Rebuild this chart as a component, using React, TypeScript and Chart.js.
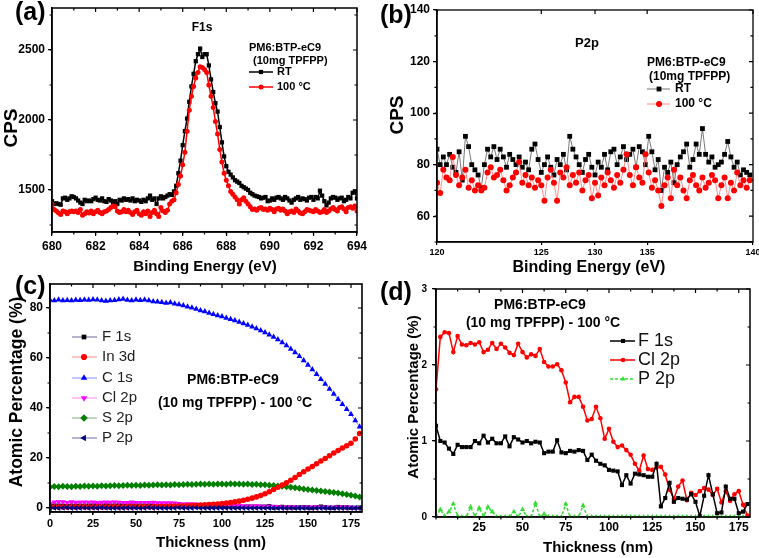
import React, { useEffect, useRef } from "react";
import { Chart, registerables } from "chart.js";

Chart.register(...registerables);
Chart.defaults.font.family = '"Liberation Sans", Arial, sans-serif';
Chart.defaults.color = "#000";

// ================= Panel (a): F1s XPS =================
const aEnergy = [
  680, 680.1, 680.2, 680.3, 680.4, 680.5, 680.6, 680.7, 680.8, 680.9,
  681, 681.1, 681.2, 681.3, 681.4, 681.5, 681.6, 681.7, 681.8, 681.9,
  682, 682.1, 682.2, 682.3, 682.4, 682.5, 682.6, 682.7, 682.8, 682.9,
  683, 683.1, 683.2, 683.3, 683.4, 683.5, 683.6, 683.7, 683.8, 683.9,
  684, 684.1, 684.2, 684.3, 684.4, 684.5, 684.6, 684.7, 684.8, 684.9,
  685, 685.1, 685.2, 685.3, 685.4, 685.5, 685.6, 685.7, 685.8, 685.9,
  686, 686.1, 686.2, 686.3, 686.4, 686.5, 686.6, 686.7, 686.8, 686.9,
  687, 687.1, 687.2, 687.3, 687.4, 687.5, 687.6, 687.7, 687.8, 687.9,
  688, 688.1, 688.2, 688.3, 688.4, 688.5, 688.6, 688.7, 688.8, 688.9,
  689, 689.1, 689.2, 689.3, 689.4, 689.5, 689.6, 689.7, 689.8, 689.9,
  690, 690.1, 690.2, 690.3, 690.4, 690.5, 690.6, 690.7, 690.8, 690.9,
  691, 691.1, 691.2, 691.3, 691.4, 691.5, 691.6, 691.7, 691.8, 691.9,
  692, 692.1, 692.2, 692.3, 692.4, 692.5, 692.6, 692.7, 692.8, 692.9,
  693, 693.1, 693.2, 693.3, 693.4, 693.5, 693.6, 693.7, 693.8, 693.9,
  694,
];
const aRT = [
  1420, 1400, 1405, 1400, 1395, 1440, 1445, 1430, 1440, 1455,
  1450, 1440, 1425, 1410, 1400, 1430, 1420, 1425, 1420, 1435,
  1445, 1430, 1425, 1440, 1420, 1415, 1435, 1425, 1410, 1420,
  1400, 1430, 1425, 1440, 1430, 1435, 1425, 1440, 1420, 1430,
  1425, 1415, 1430, 1420, 1440, 1460, 1430, 1440, 1400, 1440,
  1455, 1440, 1450, 1460, 1470, 1465, 1490, 1530, 1620, 1710,
  1820, 1920, 2010, 2130, 2240, 2330, 2420, 2470, 2510, 2450,
  2470, 2470, 2390, 2290, 2200, 2120, 2060, 1950, 1840, 1740,
  1670, 1630, 1610, 1590, 1570, 1560, 1550, 1530, 1520, 1510,
  1500, 1480, 1470, 1460, 1455, 1450, 1440, 1445, 1450, 1420,
  1425, 1440, 1430, 1445, 1450, 1440, 1430, 1450, 1440, 1425,
  1410, 1430, 1440, 1450, 1430, 1440, 1435, 1425, 1445, 1450,
  1430, 1450, 1440, 1495, 1460, 1420, 1390, 1410, 1440, 1450,
  1445, 1430, 1440, 1445, 1420, 1430, 1450, 1440, 1480, 1490,
  1440,
];
const a100C = [
  1400, 1360, 1350, 1335, 1325, 1350, 1345, 1330, 1345, 1350,
  1345, 1350, 1340, 1360, 1320, 1330, 1345, 1335, 1350, 1330,
  1345, 1355, 1340, 1330, 1345, 1350, 1360, 1375, 1385, 1380,
  1350, 1340, 1345, 1360, 1345, 1355, 1340, 1325, 1345, 1355,
  1330, 1320, 1345, 1330, 1350, 1310, 1340, 1355, 1330, 1310,
  1375, 1350, 1340, 1355, 1400, 1420, 1430, 1480, 1540, 1600,
  1680, 1770, 1920, 2070, 2170, 2240, 2300, 2340, 2380, 2375,
  2360, 2340, 2250, 2170, 2090, 1990, 1900, 1790, 1700, 1620,
  1570, 1530, 1490, 1470, 1450, 1430, 1400, 1430, 1445, 1420,
  1400, 1380, 1360, 1365, 1355, 1370, 1375, 1360, 1365, 1355,
  1370, 1360, 1345, 1365, 1370, 1355, 1365, 1350, 1330, 1345,
  1350, 1340, 1365, 1350, 1335, 1330, 1345, 1360, 1355, 1350,
  1345, 1360, 1350, 1340, 1345, 1360, 1340, 1350, 1365, 1375,
  1360, 1350, 1375, 1380, 1365, 1345, 1375, 1380, 1370, 1385,
  1350,
];
const aXTicks = [680, 682, 684, 686, 688, 690, 692, 694];
const aYTicks = [1500, 2000, 2500];
const aSeriesLabels = ["RT", "100 \u00B0C"];

// ================= Panel (b): P2p XPS =================
const bEnergy = [
  120, 120.2, 120.4, 120.6, 120.8, 121, 121.2, 121.4, 121.6, 121.8,
  122, 122.2, 122.4, 122.6, 122.8, 123, 123.2, 123.4, 123.6, 123.8,
  124, 124.2, 124.4, 124.6, 124.8, 125, 125.2, 125.4, 125.6, 125.8,
  126, 126.2, 126.4, 126.6, 126.8, 127, 127.2, 127.4, 127.6, 127.8,
  128, 128.2, 128.4, 128.6, 128.8, 129, 129.2, 129.4, 129.6, 129.8,
  130, 130.2, 130.4, 130.6, 130.8, 131, 131.2, 131.4, 131.6, 131.8,
  132, 132.2, 132.4, 132.6, 132.8, 133, 133.2, 133.4, 133.6, 133.8,
  134, 134.2, 134.4, 134.6, 134.8, 135, 135.2, 135.4, 135.6, 135.8,
  136, 136.2, 136.4, 136.6, 136.8, 137, 137.2, 137.4, 137.6, 137.8,
  138, 138.2, 138.4, 138.6, 138.8, 139, 139.2, 139.4, 139.6, 139.8,
];
const bRT = [
  86, 80, 83, 80, 84, 79, 77, 85, 74, 91,
  87, 80, 78, 76, 71, 80, 86, 83, 87, 82,
  86, 83, 79, 84, 82, 80, 83, 79, 81, 78,
  86, 88, 82, 77, 80, 83, 79, 76, 82, 80,
  84, 78, 91, 86, 83, 80, 77, 82, 84, 79,
  76, 81, 79, 84, 78, 85, 86, 80, 83, 87,
  82, 84, 86, 79, 87, 85, 80, 91, 85, 78,
  82, 70, 79, 77, 81, 73, 80, 83, 85, 88,
  79, 82, 88, 84, 94, 84, 81, 83, 79, 80,
  81, 84, 89, 83, 79, 81, 76, 78, 77, 76,
];
const b100C = [
  73, 69, 78, 75, 74, 83, 76, 72, 75, 78,
  71, 74, 70, 72, 70, 71, 77, 79, 75, 76,
  78, 74, 70, 72, 75, 77, 81, 73, 76, 72,
  75, 71, 74, 72, 66, 75, 78, 73, 66, 77,
  75, 79, 72, 76, 73, 77, 70, 74, 76, 67,
  73, 68, 75, 72, 77, 74, 71, 76, 73, 78,
  84, 76, 72, 79, 75, 73, 84, 77, 71, 74,
  70, 64, 72, 75, 67, 78, 72, 75, 70, 67,
  74, 76, 72, 70, 75, 71, 73, 76, 74, 67,
  72, 75, 67, 73, 70, 77, 72, 74, 71, 74,
];
const bXTickValues = [120, 126.6, 130, 133.3, 140];
const bXTickLabels = ["120", "125", "130", "135", "140"];
const bYTicks = [60, 80, 100, 120, 140];

// ================= Panels (c) & (d): depth profile =================
const thickness = [
  0, 2.5, 5, 7.5, 10, 12.5, 15, 17.5, 20, 22.5,
  25, 27.5, 30, 32.5, 35, 37.5, 40, 42.5, 45, 47.5,
  50, 52.5, 55, 57.5, 60, 62.5, 65, 67.5, 70, 72.5,
  75, 77.5, 80, 82.5, 85, 87.5, 90, 92.5, 95, 97.5,
  100, 102.5, 105, 107.5, 110, 112.5, 115, 117.5, 120, 122.5,
  125, 127.5, 130, 132.5, 135, 137.5, 140, 142.5, 145, 147.5,
  150, 152.5, 155, 157.5, 160, 162.5, 165, 167.5, 170, 172.5,
  175, 177.5, 180,
];
const f1s = [
  1.2, 1.0, 0.98, 0.9, 0.83, 0.95, 0.92, 0.92, 0.92, 1.0,
  0.97, 1.07, 0.98, 1.03, 0.97, 0.97, 1.06, 0.93, 1.05, 1.02,
  0.98, 1.0, 0.97, 0.99, 0.98, 0.84, 0.86, 0.86, 1.01, 0.85,
  0.84, 0.87, 0.86, 0.88, 0.87, 0.75, 0.82, 0.74, 0.7, 0.68,
  0.62, 0.61, 0.6, 0.42, 0.55, 0.44, 0.57, 0.56, 0.55, 0.53,
  0.53, 0.7, 0.14, 0.25, 0.45, 0.2, 0.25, 0.24, 0.23, 0.3,
  0.2, 0.01, 0.28, 0.55, 0.3, 0.05, 0.06, 0.4, 0.24, 0.24,
  0.05, 0.07, 0.17,
];
const in3d = [
  0.45, 0.4, 0.42, 0.38, 0.41, 0.39, 0.43, 0.4, 0.38, 0.42,
  0.4, 0.44, 0.41, 0.39, 0.42, 0.45, 0.43, 0.4, 0.44, 0.46,
  0.45, 0.48, 0.47, 0.5, 0.52, 0.55, 0.58, 0.6, 0.65, 0.7,
  0.75, 0.82, 0.9, 0.98, 1.06, 1.15, 1.25, 1.35, 1.48, 1.62,
  1.78, 1.98, 2.2, 2.45, 2.75, 3.1, 3.5, 3.95, 4.45, 5.0,
  5.7, 6.5, 7.4, 8.3, 9.2, 10.1, 11.1, 12.2, 13.4, 14.5,
  15.6, 16.6, 17.7, 18.8, 19.8, 20.9, 22.0, 23.0, 24.0, 24.9,
  25.9, 27.6, 29.8,
];
const c1s = [
  83.2, 83.0, 83.3, 83.0, 83.1, 83.0, 83.2, 83.1, 83.3, 83.2,
  83.4, 83.3, 83.0, 82.8, 83.0, 83.1, 83.4, 83.6, 83.2, 83.0,
  83.3, 83.1, 83.3, 83.0, 82.6, 82.5, 82.3, 82.0, 82.2, 81.7,
  81.4, 81.0, 80.5, 80.1, 79.6, 79.0, 78.6, 78.0, 77.5, 77.0,
  76.6, 76.0, 75.5, 75.0, 74.4, 73.8, 73.2, 72.5, 71.8, 71.0,
  70.2, 69.3, 68.4, 67.4, 66.2, 65.0, 63.6, 62.2, 60.7, 59.0,
  57.2, 55.4, 53.5, 51.5, 49.6, 47.6, 45.6, 43.5, 41.5, 39.5,
  37.5, 35.0, 32.5,
];
const cl2p = [
  1.68, 2.37, 2.43, 2.42, 2.17, 2.38, 2.27, 2.26, 2.29, 2.27,
  2.3, 2.17, 2.2, 2.29, 2.21, 2.28, 2.23, 2.16, 2.13, 2.28,
  2.17, 2.1, 2.14, 2.12, 2.21, 2.04, 1.98, 1.98, 2.01, 1.93,
  1.77, 1.51, 1.58, 1.58, 1.45, 1.27, 1.29, 1.45, 1.3, 1.03,
  1.16, 0.99, 0.92, 0.94, 0.88, 0.82, 0.7, 0.61, 0.81, 0.63,
  0.62, 0.65, 0.66, 0.56, 0.36, 0.24, 0.4, 0.48, 0.22, 0.32,
  0.29, 0.34, 0.38, 0.36, 0.29, 0.37, 0.19, 0.34, 0.21, 0.3,
  0.34, 0.16, 0.02,
];
const s2p = [
  8.4, 8.6, 8.5, 8.7, 8.6, 8.5, 8.7, 8.6, 8.8, 8.7,
  8.8, 8.7, 8.9, 8.8, 8.9, 9.0, 8.9, 9.0, 9.1, 9.0,
  9.1, 9.0, 9.2, 9.1, 9.2, 9.3, 9.2, 9.3, 9.2, 9.4,
  9.3, 9.4, 9.5, 9.4, 9.5, 9.6, 9.5, 9.6, 9.5, 9.6,
  9.6, 9.5, 9.7, 9.6, 9.6, 9.5, 9.6, 9.4, 9.5, 9.3,
  9.3, 9.1, 9.0, 8.8, 8.7, 8.5, 8.3, 8.1, 7.9, 7.6,
  7.4, 7.2, 7.0, 6.8, 6.6, 6.4, 6.2, 6.0, 5.7, 5.4,
  5.1, 4.8, 4.4,
];
const p2p = [
  0, 0.1, 0.01, 0.07, 0.17, 0.01, 0, 0, 0.13, 0.01,
  0.12, 0.01, 0.13, 0.07, 0, 0, 0, 0, 0.07, 0,
  0.1, 0, 0, 0.18, 0, 0.04, 0, 0, 0, 0,
  0.17, 0, 0, 0, 0.15, 0, 0, 0, 0, 0,
  0, 0, 0, 0, 0, 0, 0, 0, 0, 0,
  0, 0, 0, 0, 0, 0, 0, 0, 0, 0,
  0, 0, 0, 0, 0, 0, 0, 0, 0, 0,
  0, 0, 0,
];
const cXTicks = [0, 25, 50, 75, 100, 125, 150, 175];
const cYTicks = [0, 20, 40, 60, 80];
const dXTicks = [25, 50, 75, 100, 125, 150, 175];
const dYTicks = [0, 1, 2, 3];

// ================= helpers =================
const FONT = '"Liberation Sans", Arial, sans-serif';

function pts(xs: number[], ys: number[]) {
  return xs.map((x, i) => ({ x, y: ys[i] }));
}

function drawMarker(ctx: any, style: string, rot: number, x: number, y: number, r: number, fill: string, stroke: string, bw: number) {
  ctx.beginPath();
  if (style === "circle") {
    ctx.arc(x, y, r, 0, Math.PI * 2);
  } else if (style === "rect") {
    const s = r * Math.SQRT1_2;
    ctx.rect(x - s, y - s, 2 * s, 2 * s);
  } else if (style === "rectRot") {
    ctx.moveTo(x, y - r);
    ctx.lineTo(x + r, y);
    ctx.lineTo(x, y + r);
    ctx.lineTo(x - r, y);
    ctx.closePath();
  } else {
    let a = ((rot || 0) * Math.PI) / 180;
    ctx.moveTo(x + Math.sin(a) * r, y - Math.cos(a) * r);
    a += (2 * Math.PI) / 3;
    ctx.lineTo(x + Math.sin(a) * r, y - Math.cos(a) * r);
    a += (2 * Math.PI) / 3;
    ctx.lineTo(x + Math.sin(a) * r, y - Math.cos(a) * r);
    ctx.closePath();
  }
  ctx.fillStyle = fill;
  ctx.fill();
  if (bw) {
    ctx.strokeStyle = stroke;
    ctx.lineWidth = bw;
    ctx.stroke();
  }
}

function makeDecor(spec: any) {
  return {
    id: "decor",
    afterDatasetsDraw(chart: any) {
      const { ctx, chartArea: ca, scales } = chart;
      const xs = scales.x;
      const ys = scales.y;
      ctx.save();
      ctx.strokeStyle = "#000";
      ctx.lineWidth = spec.frameW;
      ctx.strokeRect(ca.left, ca.top, ca.right - ca.left, ca.bottom - ca.top);
      ctx.lineWidth = 1.2;
      ctx.beginPath();
      const maj = spec.mirrorLen;
      for (const t of xs.ticks) {
        const p = xs.getPixelForValue(t.value);
        ctx.moveTo(p, ca.top);
        ctx.lineTo(p, ca.top + maj);
      }
      for (const t of ys.ticks) {
        const p = ys.getPixelForValue(t.value);
        ctx.moveTo(ca.right, p);
        ctx.lineTo(ca.right - maj, p);
      }
      const ml = spec.minorLen;
      if (spec.minorX) {
        for (let v = Math.ceil(xs.min / spec.minorX) * spec.minorX; v <= xs.max + 1e-9; v += spec.minorX) {
          const p = xs.getPixelForValue(v);
          ctx.moveTo(p, ca.bottom);
          ctx.lineTo(p, ca.bottom + ml);
          ctx.moveTo(p, ca.top);
          ctx.lineTo(p, ca.top + ml);
        }
      }
      if (spec.minorY) {
        for (let v = Math.ceil(ys.min / spec.minorY) * spec.minorY; v <= ys.max + 1e-9; v += spec.minorY) {
          const p = ys.getPixelForValue(v);
          ctx.moveTo(ca.left, p);
          ctx.lineTo(ca.left - ml, p);
          ctx.moveTo(ca.right, p);
          ctx.lineTo(ca.right - ml, p);
        }
      }
      ctx.stroke();
      ctx.restore();
    },
    afterDraw(chart: any) {
      const { ctx } = chart;
      ctx.save();
      ctx.textBaseline = "middle";
      for (const t of spec.texts) {
        ctx.font = t.font;
        ctx.fillStyle = t.color || "#000";
        ctx.textAlign = t.align || "left";
        if (t.rotate) {
          ctx.save();
          ctx.translate(t.x, t.y);
          ctx.rotate(-Math.PI / 2);
          ctx.fillText(t.text, 0, 0);
          ctx.restore();
        } else {
          ctx.fillText(t.text, t.x, t.y);
        }
      }
      const lg = spec.legend;
      if (lg) {
        lg.rows.forEach((row: any) => {
          const d = chart.data.datasets[row.ds];
          ctx.save();
          ctx.strokeStyle = d.borderColor;
          ctx.lineWidth = d.borderWidth;
          ctx.setLineDash(d.borderDash || []);
          ctx.beginPath();
          ctx.moveTo(lg.x1, row.y);
          ctx.lineTo(lg.x2, row.y);
          ctx.stroke();
          ctx.restore();
          drawMarker(ctx, d.pointStyle, d.pointRotation || 0, lg.mx, row.y, d.pointRadius * (lg.scale || 1), d.pointBackgroundColor, d.pointBorderColor, d.pointBorderWidth || 0);
          ctx.font = lg.font;
          ctx.fillStyle = lg.color || "#000";
          ctx.textAlign = "left";
          ctx.textBaseline = "middle";
          ctx.fillText(d.label, lg.tx, row.y);
        });
      }
      ctx.restore();
    },
  };
}

function scaleOpts(s: any, isX: boolean, fixed: number) {
  return {
    type: "linear",
    min: s.min,
    max: s.max,
    afterBuildTicks: (sc: any) => {
      sc.ticks = s.ticks.map((v: number) => ({ value: v }));
    },
    afterFit: (sc: any) => {
      if (isX) sc.height = fixed;
      else sc.width = fixed;
      sc.paddingLeft = 0;
      sc.paddingRight = 0;
      sc.paddingTop = 0;
      sc.paddingBottom = 0;
    },
    ticks: {
      autoSkip: false,
      maxRotation: 0,
      minRotation: 0,
      padding: s.pad,
      color: "#000",
      font: { size: s.font, weight: "bold", family: FONT },
      callback: (v: any, i: number) => (s.labels ? s.labels[i] : String(v)),
    },
    grid: {
      display: true,
      drawOnChartArea: false,
      drawTicks: true,
      tickLength: s.tl,
      tickColor: "#000",
      tickWidth: 1.2,
      color: "#000",
      lineWidth: 1.2,
    },
    border: { display: true, color: "#000", width: 1.5 },
    title: { display: false },
  };
}

function Panel({ cfg }: { cfg: any }) {
  const ref = useRef<HTMLCanvasElement>(null);
  useEffect(() => {
    const chart = new Chart(ref.current as HTMLCanvasElement, {
      type: "line",
      data: { datasets: cfg.datasets },
      options: {
        responsive: false,
        animation: false,
        devicePixelRatio: 1,
        events: [],
        layout: { padding: { left: 0, top: cfg.padTop, right: cfg.padRight, bottom: 0 } },
        plugins: { legend: { display: false }, tooltip: { enabled: false }, title: { display: false } },
        scales: {
          x: scaleOpts(cfg.x, true, cfg.xH),
          y: scaleOpts(cfg.y, false, cfg.yW),
        },
      } as any,
      plugins: [makeDecor(cfg.decor)],
    } as any);
    return () => chart.destroy();
  }, []);
  return (
    <canvas
      ref={ref}
      width={cfg.w}
      height={cfg.h}
      style={{ position: "absolute", left: cfg.left, top: cfg.top, width: cfg.w, height: cfg.h }}
    />
  );
}

function line(label: string, xs: number[], ys: number[], o: any) {
  return {
    label,
    data: pts(xs, ys),
    tension: 0,
    fill: false,
    pointBorderWidth: 0,
    ...o,
  };
}

// ================= panel configs =================
const panelA = {
  left: 0, top: 0, w: 380, h: 275,
  padTop: 8, padRight: 23, yW: 52, xH: 43,
  x: { min: 680, max: 694, ticks: aXTicks, font: 12, tl: 4, pad: 3 },
  y: { min: 1200, max: 2800, ticks: aYTicks, font: 12, tl: 4, pad: 3 },
  datasets: [
    line(aSeriesLabels[1], aEnergy, a100C, {
      borderColor: "#ff0000", borderWidth: 1.5, pointStyle: "circle", pointRadius: 2.5,
      pointBackgroundColor: "#ff0000", pointBorderColor: "#ff0000",
    }),
    line(aSeriesLabels[0], aEnergy, aRT, {
      borderColor: "#000000", borderWidth: 1.5, pointStyle: "rect", pointRadius: 3,
      pointBackgroundColor: "#000000", pointBorderColor: "#000000",
    }),
  ],
  decor: {
    frameW: 1.5, mirrorLen: 4, minorLen: 2.5, minorX: 1, minorY: 250,
    texts: [
      { text: "(a)", x: 15, y: 13, font: `bold 25px ${FONT}` },
      { text: "F1s", x: 202, y: 28, font: `bold 12px ${FONT}`, align: "center" },
      { text: "PM6:BTP-eC9", x: 249, y: 48, font: `bold 11px ${FONT}` },
      { text: "(10mg TPFPP)", x: 253, y: 61, font: `bold 11px ${FONT}` },
      { text: "CPS", x: 12, y: 128, font: `bold 19px ${FONT}`, align: "center", rotate: true },
      { text: "Binding Energy (eV)", x: 205, y: 267, font: `bold 15px ${FONT}`, align: "center" },
    ],
    legend: { x1: 249, x2: 273, mx: 261, tx: 277, font: `bold 11px ${FONT}`, rows: [{ ds: 1, y: 72 }, { ds: 0, y: 87 }] },
  },
};

const panelB = {
  left: 380, top: 0, w: 379, h: 275,
  padTop: 10, padRight: 6, yW: 57, xH: 33,
  x: { min: 120, max: 140, ticks: bXTickValues, labels: bXTickLabels, font: 9, tl: 3, pad: 2 },
  y: { min: 50, max: 140, ticks: bYTicks, font: 12, tl: 4, pad: 3 },
  datasets: [
    line(aSeriesLabels[1], bEnergy, b100C, {
      borderColor: "#ff7070", borderWidth: 0.8, pointStyle: "circle", pointRadius: 3,
      pointBackgroundColor: "#ff0000", pointBorderColor: "#ff0000",
    }),
    line(aSeriesLabels[0], bEnergy, bRT, {
      borderColor: "#555555", borderWidth: 0.8, pointStyle: "rect", pointRadius: 3.4,
      pointBackgroundColor: "#000000", pointBorderColor: "#000000",
    }),
  ],
  decor: {
    frameW: 1.3, mirrorLen: 4, minorLen: 2.5, minorX: 0, minorY: 10,
    texts: [
      { text: "(b)", x: 0, y: 16, font: `bold 25px ${FONT}` },
      { text: "P2p", x: 207, y: 43, font: `bold 13px ${FONT}`, align: "center" },
      { text: "PM6:BTP-eC9", x: 267, y: 63, font: `bold 12px ${FONT}` },
      { text: "(10mg TPFPP)", x: 269, y: 77, font: `bold 12px ${FONT}` },
      { text: "CPS", x: 18, y: 115, font: `bold 19px ${FONT}`, align: "center", rotate: true },
      { text: "Binding Energy (eV)", x: 209, y: 268, font: `bold 16px ${FONT}`, align: "center" },
    ],
    legend: { x1: 267, x2: 290, mx: 279, tx: 295, font: `bold 12px ${FONT}`, rows: [{ ds: 1, y: 89 }, { ds: 0, y: 104 }] },
  },
};

const panelC = {
  left: 0, top: 270, w: 380, h: 288,
  padTop: 14, padRight: 18, yW: 50, xH: 46,
  x: { min: 0, max: 181.4, ticks: cXTicks, font: 11, tl: 3, pad: 2 },
  y: { min: -1.6, max: 89.6, ticks: cYTicks, font: 12, tl: 4, pad: 3 },
  datasets: [
    line("F 1s", thickness, f1s, {
      order: 5, borderColor: "#6a6a9a", borderWidth: 1, pointStyle: "rect", pointRadius: 3,
      pointBackgroundColor: "#000000", pointBorderColor: "#000000",
    }),
    line("In 3d", thickness, in3d, {
      order: 2, borderColor: "#ff8a8a", borderWidth: 1, pointStyle: "circle", pointRadius: 2.8,
      pointBackgroundColor: "#ff0000", pointBorderColor: "#ff0000",
    }),
    line("C 1s", thickness, c1s, {
      order: 1, borderColor: "#8a8aff", borderWidth: 1, pointStyle: "triangle", pointRadius: 3.4,
      pointBackgroundColor: "#0000ff", pointBorderColor: "#0000ff",
    }),
    line("Cl 2p", thickness, cl2p, {
      order: 4, borderColor: "#ff8aff", borderWidth: 1, pointStyle: "triangle", pointRotation: 180, pointRadius: 3.4,
      pointBackgroundColor: "#ff00ff", pointBorderColor: "#ff00ff",
    }),
    line("S 2p", thickness, s2p, {
      order: 3, borderColor: "#7fae7f", borderWidth: 1, pointStyle: "rectRot", pointRadius: 3.4,
      pointBackgroundColor: "#008000", pointBorderColor: "#008000",
    }),
    line("P 2p", thickness, p2p, {
      order: 0, borderColor: "#6a6aa8", borderWidth: 1, pointStyle: "triangle", pointRotation: -90, pointRadius: 3.4,
      pointBackgroundColor: "#000080", pointBorderColor: "#000080",
    }),
  ],
  decor: {
    frameW: 1.6, mirrorLen: 4, minorLen: 2.5, minorX: 12.5, minorY: 10,
    texts: [
      { text: "(c)", x: 15, y: 17, font: `bold 25px ${FONT}` },
      { text: "PM6:BTP-eC9", x: 233, y: 110, font: `bold 14px ${FONT}`, align: "center" },
      { text: "(10 mg TPFPP) - 100 \u00B0C", x: 235, y: 133, font: `bold 14px ${FONT}`, align: "center" },
      { text: "Atomic Percentage (%)", x: 17, y: 122, font: `bold 17.5px ${FONT}`, align: "center", rotate: true },
      { text: "Thickness (nm)", x: 211, y: 273, font: `bold 15px ${FONT}`, align: "center" },
    ],
    legend: {
      x1: 72, x2: 97, mx: 84, tx: 102, font: `15px ${FONT}`, color: "#222", scale: 1.1,
      rows: [{ ds: 0, y: 67 }, { ds: 1, y: 87 }, { ds: 2, y: 108 }, { ds: 3, y: 128 }, { ds: 4, y: 148 }, { ds: 5, y: 168 }],
    },
  },
};

const panelD = {
  left: 380, top: 270, w: 379, h: 288,
  padTop: 19, padRight: 9, yW: 56, xH: 41,
  x: { min: 0, max: 181.5, ticks: dXTicks, font: 12, tl: 3, pad: 0 },
  y: { min: 0, max: 3, ticks: dYTicks, font: 10, tl: 4, pad: 5 },
  datasets: [
    line("F 1s", thickness, f1s, {
      order: 0, borderColor: "#000000", borderWidth: 1.5, pointStyle: "rect", pointRadius: 2.9,
      pointBackgroundColor: "#000000", pointBorderColor: "#000000",
    }),
    line("Cl 2p", thickness, cl2p, {
      order: 1, borderColor: "#ff0000", borderWidth: 1.5, pointStyle: "circle", pointRadius: 2.3,
      pointBackgroundColor: "#ff0000", pointBorderColor: "#ff0000",
    }),
    line("P 2p", thickness, p2p, {
      order: 2, borderColor: "#33dd33", borderWidth: 1.5, borderDash: [3, 2], pointStyle: "triangle", pointRadius: 3,
      pointBackgroundColor: "#33dd33", pointBorderColor: "#33dd33",
    }),
  ],
  decor: {
    frameW: 1.5, mirrorLen: 4, minorLen: 2.5, minorX: 12.5, minorY: 0.5,
    texts: [
      { text: "(d)", x: 0, y: 23, font: `bold 25px ${FONT}` },
      { text: "PM6:BTP-eC9", x: 160, y: 35, font: `bold 14px ${FONT}`, align: "center" },
      { text: "(10 mg TPFPP) - 100 \u00B0C", x: 163, y: 53, font: `bold 14px ${FONT}`, align: "center" },
      { text: "Atomic Percentage (%)", x: 34, y: 127, font: `bold 15px ${FONT}`, align: "center", rotate: true },
      { text: "Thickness (nm)", x: 218, y: 278, font: `bold 15px ${FONT}`, align: "center" },
    ],
    legend: {
      x1: 230, x2: 255, mx: 243, tx: 258, font: `18px ${FONT}`, color: "#111",
      rows: [{ ds: 0, y: 71 }, { ds: 1, y: 90 }, { ds: 2, y: 109 }],
    },
  },
};

export default function App() {
  return (
    <div style={{ position: "fixed", left: 0, top: 0, width: 759, height: 558, background: "#ffffff", overflow: "hidden" }}>
      <Panel cfg={panelA} />
      <Panel cfg={panelB} />
      <Panel cfg={panelC} />
      <Panel cfg={panelD} />
    </div>
  );
}
